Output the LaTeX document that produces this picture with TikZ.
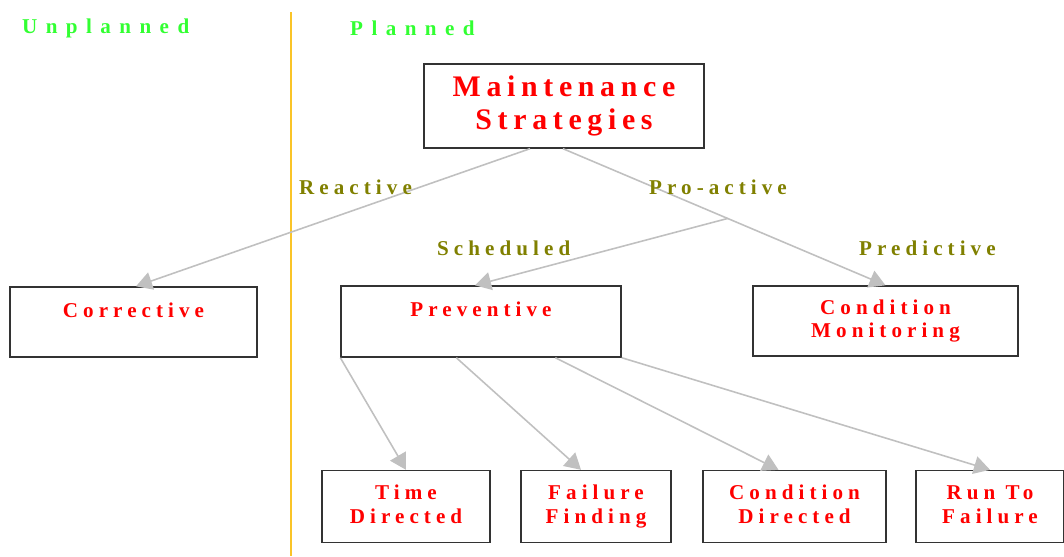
\documentclass[tikz,border=0pt]{standalone}
\usepackage{fontspec}
\setmainfont{Liberation Serif}
\newfontfamily\msnarrow[LetterSpace=24]{Liberation Serif}
\newfontfamily\msroot[LetterSpace=19]{Liberation Serif}
\newfontfamily\mswide[LetterSpace=40]{Liberation Serif}
\usetikzlibrary{arrows.meta,positioning,calc}
\definecolor{MsRed}{RGB}{255,0,0}
\definecolor{MsGreen}{RGB}{50,255,50}
\definecolor{MsOlive}{RGB}{128,128,0}
\definecolor{MsGray}{RGB}{192,192,192}
\definecolor{MsAmber}{RGB}{250,196,40}
\tikzset{
  ms/box/.style={
    draw=black!80,
    thick,
    fill=white,
    align=center,
    text=MsRed,
    inner sep=0pt,
    font=\msnarrow\bfseries\fontsize{12}{13.5}\selectfont
  },
  ms/arrow/.style={-{Triangle[length=3.2mm,width=3.6mm]}, line width=0.9pt, draw=MsGray},
  ms/zone/.style={font=\mswide\bfseries\fontsize{12}{14}\selectfont, text=MsGreen, anchor=west},
  ms/kind/.style={font=\msnarrow\bfseries\fontsize{12}{14}\selectfont, text=MsOlive, anchor=west}
}

\begin{document}
\begin{tikzpicture}[x=0.02cm,y=-0.02cm]
  \useasboundingbox (0,0) rectangle (1064,556);
  % left / right split
  \coordinate (splittop) at (291,12);
  \coordinate (splitbot) at (291,556);
  \draw[MsAmber, line width=1pt] (splittop) -- (splitbot);
  \node[ms/zone] (unplanned) at (16,28) {Unplanned};
  \node[ms/zone] (planned) at (344,28) {Planned};

  % boxes
  \node[ms/box,minimum width=5.6cm,minimum height=1.68cm,
        font=\msroot\bfseries\fontsize{17}{19}\selectfont] (root) at (564,106) {Maintenance\\Strategies};
  \node[ms/box,minimum width=4.94cm,minimum height=1.4cm] (corr) at (133.5,322) {Corrective\\\mbox{}};
  \node[ms/box,minimum width=5.6cm,minimum height=1.42cm] (prev) at (481,321.5) {Preventive\\\mbox{}};
  \node[ms/box,minimum width=5.3cm,minimum height=1.4cm] (cmon) at (885.5,321) {Condition\\Monitoring};
  \foreach \n/\x/\w/\t in {time/406/3.36/{Time\\Directed},find/596/3.0/{Failure\\Finding},
                           cdir/794.5/3.66/{Condition\\Directed},rtf/990/2.96/{Run To\\Failure}}{
    \node[ms/box,minimum width=\w cm,minimum height=1.44cm] (\n) at (\x,506.5)
      {\raisebox{1.7pt}{\begin{tabular}{@{}c@{}}\t\end{tabular}}};
  }

  % branches
  \coordinate (split) at ($(root.south)!0.51!(cmon.north)$);
  \draw[ms/arrow] ([xshift=-0.68cm]root.south) -- ([xshift=0.05cm]corr.north);
  \draw[ms/arrow] ([xshift=-0.02cm]root.south) -- (cmon.north);
  \draw[ms/arrow] (split) -- ([xshift=-0.12cm]prev.north);
  \draw[ms/arrow] (prev.south west) -- (time.north);
  \draw[ms/arrow] ([xshift=2.32cm]prev.south west) -- ([xshift=-0.3cm]find.north);
  \draw[ms/arrow] ([xshift=4.3cm]prev.south west) -- ([xshift=-0.32cm]cdir.north);
  \draw[ms/arrow] (prev.south east) -- (rtf.north);

  \node[ms/kind] (reactive) at (293,187) {Reactive};
  \node[ms/kind] (proactive) at (643,187) {Pro-active};
  \node[ms/kind] (sched) at (431,248) {Scheduled};
  \node[ms/kind] (predict) at (853,248) {Predictive};
\end{tikzpicture}
\end{document}
